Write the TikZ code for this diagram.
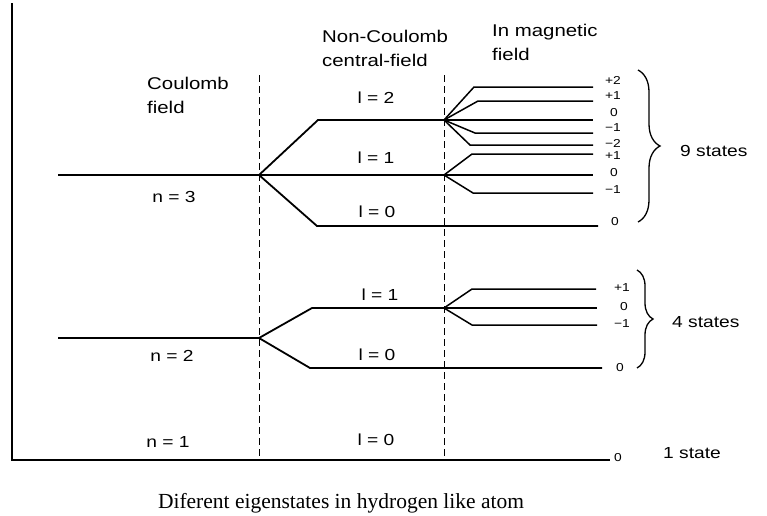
\documentclass[tikz,border=0pt]{standalone}
\usepackage{fontspec}
\setmainfont{Liberation Sans}[FakeStretch=1.2]
\newfontfamily\captionfont{Liberation Serif}
\usetikzlibrary{decorations.pathreplacing}
\tikzset{
      level/.style={line width=1.8pt},
      sublevel/.style={line width=1.5pt},
      axisline/.style={line width=2pt},
      divider/.style={line width=0.9pt, dash pattern=on 7pt off 4pt},
      head/.style={align=left, anchor=west, inner sep=0pt, font=\fontsize{17}{24}\selectfont},
      lvl/.style={inner sep=0pt, font=\fontsize{16}{18}\selectfont},
      mlab/.style={inner sep=0pt, font=\fontsize{11.5}{13}\selectfont},
      states/.style={anchor=west, inner sep=0pt, font=\fontsize{16}{18}\selectfont},
      stbrace/.style={decorate, decoration={brace, amplitude=#1}, line width=1.3pt}
    }

\begin{document}
\begin{tikzpicture}[x=1pt,y=-1pt]
    \useasboundingbox (0,0) rectangle (767,515);
    \draw[axisline] (12,3) -- (12,460) -- (610,460);
    \draw[divider] (259,75) -- (259,460);
    \draw[divider] (444,75) -- (444,460);

    \node[head] (coul) at (147,95) {Coulomb\\field};
    \node[head] (noncoul) at (322,48) {Non-Coulomb\\central-field};
    \node[head] (magn) at (492,42) {In magnetic\\field};

    \coordinate (s3) at (259,175);
    \coordinate (s2) at (259,338);
    \coordinate (p32) at (444,120);
    \coordinate (p31) at (444,175);
    \coordinate (p21) at (444,308);

    % n = 3
    \draw[level] (58,175) -- (s3);
    \draw[level] (s3) -- (318,120) -- (p32);
    \draw[level] (s3) -- (p31);
    \draw[level] (s3) -- (317,226) -- (598,226);
    \draw[sublevel] (p32) -- (474,87) -- (593,87);
    \draw[sublevel] (p32) -- (478,101) -- (593,101);
    \draw[sublevel] (p32) -- (593,120);
    \draw[sublevel] (p32) -- (475,133) -- (593,133);
    \draw[sublevel] (p32) -- (470,145) -- (593,145);
    \draw[sublevel] (p31) -- (472,154) -- (593,154);
    \draw[sublevel] (p31) -- (593,175);
    \draw[sublevel] (p31) -- (473,193) -- (593,193);

    % n = 2
    \draw[level] (58,338) -- (s2);
    \draw[level] (s2) -- (312,308) -- (p21);
    \draw[level] (s2) -- (310,368) -- (602,368);
    \draw[sublevel] (p21) -- (472,289) -- (596,289);
    \draw[sublevel] (p21) -- (597,308);
    \draw[sublevel] (p21) -- (472,325) -- (597,325);

    \node[lvl] (n3) at (174,197) {n = 3};
    \node[lvl] (n2) at (172,356) {n = 2};
    \node[lvl] (n1) at (168,442) {n = 1};
    \node[lvl] (l32) at (376,98) {l = 2};
    \node[lvl] (l31) at (376,158) {l = 1};
    \node[lvl] (l30) at (377,212) {l = 0};
    \node[lvl] (l21) at (380,295) {l = 1};
    \node[lvl] (l20) at (377,355) {l = 0};
    \node[lvl] (l10) at (376,440) {l = 0};

    \node[mlab] (m2a) at (613,80) {+2};
    \node[mlab] (m1a) at (613,96) {+1};
    \node[mlab] (m0a) at (614,113) {0};
    \node[mlab] (mm1a) at (613,128) {−1};
    \node[mlab] (mm2a) at (613,143) {−2};
    \node[mlab] (m1b) at (613,156) {+1};
    \node[mlab] (m0b) at (614,173) {0};
    \node[mlab] (mm1b) at (613,190) {−1};
    \node[mlab] (m0c) at (615,222) {0};
    \node[mlab] (m1d) at (622,288) {+1};
    \node[mlab] (m0d) at (624,307) {0};
    \node[mlab] (mm1d) at (622,324) {−1};
    \node[mlab] (m0e) at (620,368) {0};
    \node[mlab] (m0f) at (618,458) {0};

    \draw[stbrace=22] (638,70) -- (638,222);
    \draw[stbrace=16] (637,270) -- (637,368);
    \node[states] (nine) at (680,151) {9 states};
    \node[states] (four) at (672,322) {4 states};
    \node[states] (one) at (663,453) {1 state};

    \node[font=\captionfont\fontsize{21.5}{24}\selectfont, inner sep=0pt] (caption) at (341,503) {Diferent eigenstates in hydrogen like atom};
    \end{tikzpicture}
\end{document}
